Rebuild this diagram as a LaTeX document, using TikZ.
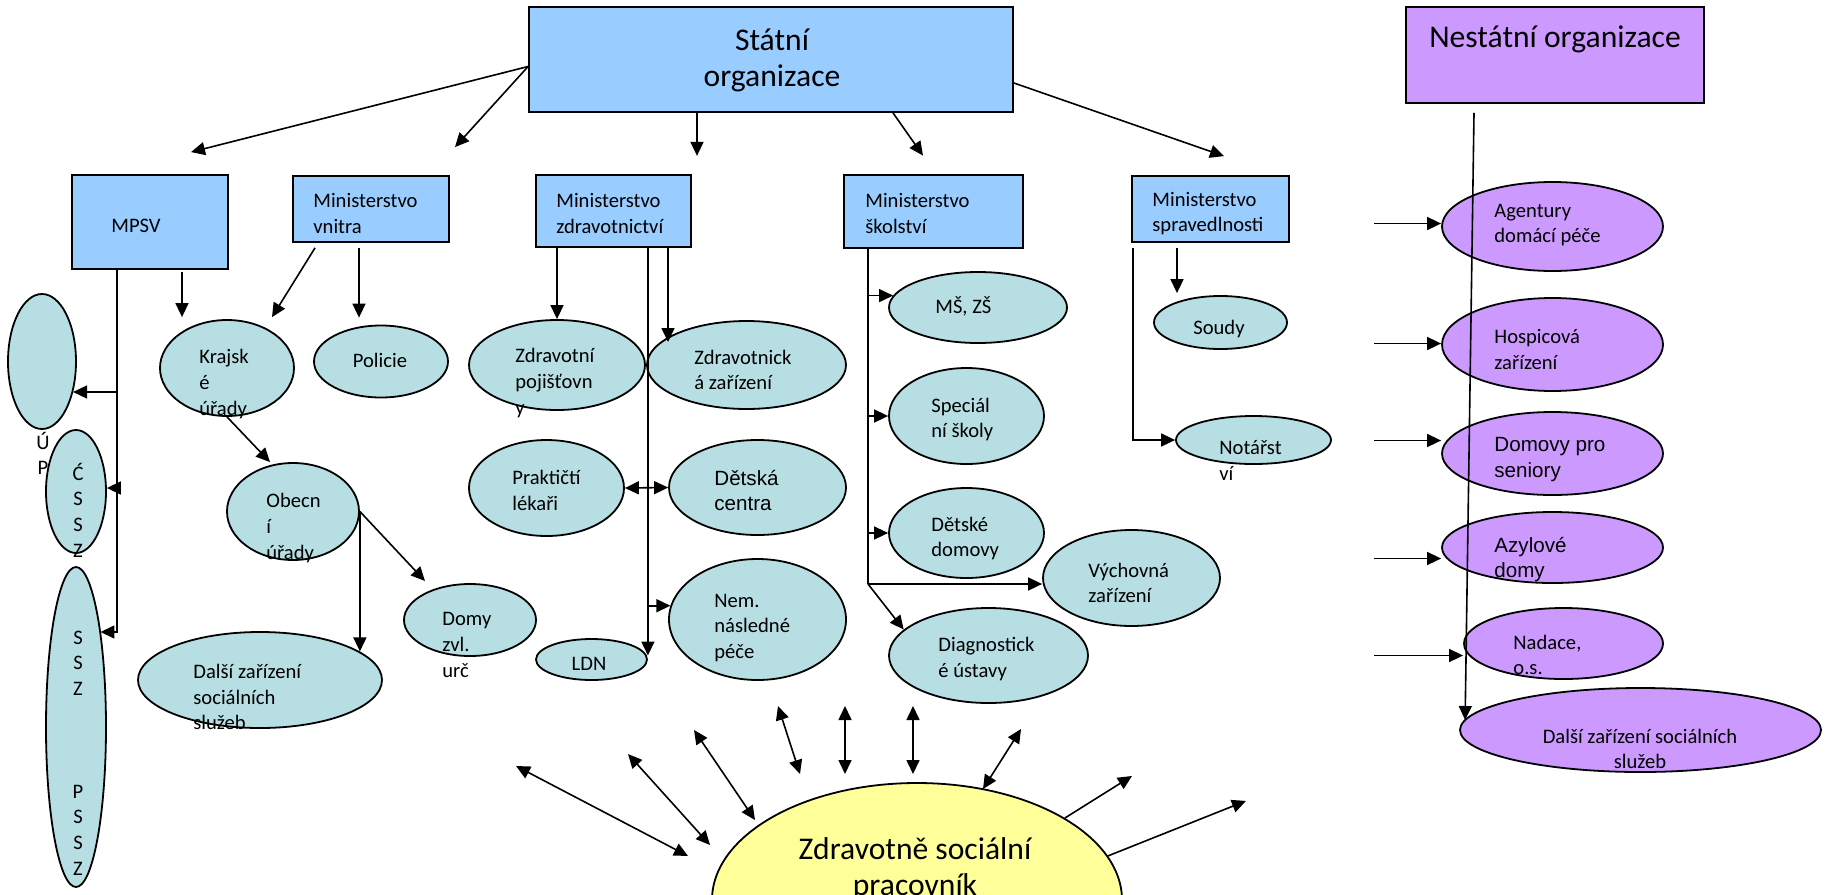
\documentclass[tikz,border=0pt]{standalone}
\usepackage{fontspec}
\setmainfont{Carlito}
\newfontfamily\arialfont{Liberation Sans}
\usepackage{tikz}
\usetikzlibrary{arrows.meta, shapes.geometric}
\usepackage{xcolor}
\definecolor{stateblue}{RGB}{153, 204, 255}
\definecolor{ovalteal}{RGB}{183, 222, 227}
\definecolor{ngopurple}{RGB}{204, 153, 255}
\definecolor{workeryellow}{RGB}{255, 255, 153}
\newcommand{\lblfont}{\fontsize{10.3}{12.8}\selectfont}
\newcommand{\headfont}{\fontsize{15.8}{18}\selectfont}

\begin{document}
\begin{tikzpicture}[x=0.5pt, y=-0.5pt,
    box/.style 2 args={draw, line width=0.9pt, fill=stateblue, minimum width=#1pt, minimum height=#2pt, inner sep=0pt},
    oval/.style 2 args={ellipse, draw, line width=0.9pt, fill=ovalteal, minimum width=#1pt, minimum height=#2pt, inner sep=0pt},
    ngo/.style 2 args={oval={#1}{#2}, fill=ngopurple},
    lbl/.style={inner sep=0pt, anchor=west, align=left, font=\lblfont},
    mid/.style={inner sep=0pt, align=center, font=\lblfont},
    trunk/.style={line width=0.8pt},
    arr/.style={line width=0.8pt, -{Triangle[length=7pt, width=6.5pt]}},
    both/.style={line width=0.8pt, {Triangle[length=7pt, width=6.5pt]}-{Triangle[length=7pt, width=6.5pt]}}]

    \fill[white, use as bounding box] (0,0) rectangle (1845,894);

    \foreach \i/\ax/\ay/\bx/\by in {1/688/856/516/766, 2/710/845/628/754, 3/755/820/694/730,
        4/800/774/778/706, 5/845/774/845/706, 6/913/774/913/706, 7/983/789/1021/729} {
        \coordinate (ray\i a) at (\ax,\ay);
        \coordinate (ray\i b) at (\bx,\by);
        \draw[both] (ray\i a) -- (ray\i b);
    }

    \node[box={242}{52.5}] (stat) at (771,59.5) {};
    \node[box={149}{48}, fill=ngopurple] (nestat) at (1555,55) {};
    \node[box={78}{47}] (mpsv) at (150,222) {};
    \node[box={78}{33}] (mvnitra) at (371,209) {};
    \node[box={77.5}{36.25}] (mzdrav) at (613.5,211) {};
    \node[box={89.5}{36.5}, line width=1.4pt] (mskol) at (933.5,211.5) {};
    \node[box={78.5}{33}] (msprav) at (1210.5,209) {};

    \node[oval={34}{67.5}] (up) at (42,361.5) {};
    \node[mid] (t-up) at (43,453.5) {Ú\\P};
    \node[oval={30}{61.5}] (cssz) at (76,491.5) {};
    \node[oval={30}{160}] (ssz) at (76,727) {};
    \node[oval={67}{48}] (kraj) at (227,368) {};
    \node[oval={67}{36}] (polic) at (381,361.5) {};
    \node[oval={66}{48.5}] (obec) at (293,511.5) {};
    \node[oval={122}{48}] (dalsi) at (260,680) {};
    \node[oval={66}{36}] (domy) at (470,620) {};

    \node[oval={88}{45}] (pojist) at (557,365) {};
    \node[oval={99.5}{44}] (zdrzar) at (746.5,365) {};
    \node[oval={77.5}{48}] (prakt) at (546.5,488) {};
    \node[oval={88.5}{47.5}] (detc) at (757.5,487.5) {};
    \node[oval={88.5}{60.5}] (nem) at (757.5,619.5) {};
    \node[oval={55.5}{20.5}] (ldn) at (591.5,659.5) {};

    \node[oval={89}{35.5}] (mszs) at (978,307.5) {};
    \node[oval={77.5}{48}] (spec) at (966.5,416) {};
    \node[oval={77.5}{45}] (detd) at (966.5,533) {};
    \node[oval={88.5}{48}] (vych) at (1131.5,578) {};
    \node[oval={99.5}{47.5}] (diag) at (988.5,655.5) {};
    \node[oval={66.5}{26.5}] (soudy) at (1220.5,322.5) {};
    \node[oval={77.5}{24}] (notar) at (1253.5,440) {};

    \node[ngo={110.5}{44.5}] (agent) at (1552.5,226.5) {};
    \node[ngo={110.5}{46.5}] (hosp) at (1552.5,344.5) {};
    \node[ngo={110.5}{41.5}] (domsen) at (1552.5,453.5) {};
    \node[ngo={110.5}{35.5}] (azyl) at (1552.5,547.5) {};
    \node[ngo={99.5}{35.5}] (nadace) at (1563.5,643.5) {};
    \node[ngo={180.5}{42}] (dalsin) at (1640.5,730) {};

    \node[oval={205}{117}, fill=workeryellow] (zsp) at (917,900) {};
    \draw[arr] (zsp.29) -- ++(67,-42);
    \draw[arr] (zsp.13.5) -- ++(138,-55);

    \draw[arr] ([shift={(0,7)}]stat.west) -- ([shift={(41,-22)}]mpsv.north);
    \draw[arr] ([shift={(0,7)}]stat.west) -- ([shift={(84,-28)}]mvnitra.north);
    \draw[arr] ([shift={(-74,0)}]stat.south) -- ([shift={(83.5,-18)}]mzdrav.north);
    \draw[arr] ([shift={(122,0)}]stat.south) -- ([shift={(-10.5,-18)}]mskol.north);
    \draw[arr] ([shift={(0,23.5)}]stat.east) -- ([shift={(13.5,-19)}]msprav.north);

    \coordinate (mb1) at (117,392);
    \coordinate (mb2) at (117,488);
    \coordinate (mb3) at (117,632);
    \draw[arr] (mb3 |- mpsv.south) -- (mb3) -- (ssz.76 |- mb3);
    \draw[arr] (mb1) -- (up.-45 |- mb1);
    \draw[arr] (mb2) -- (cssz.east |- mb2);
    \draw[arr] ([shift={(32,2)}]mpsv.south) -- ([shift={(-45,-2)}]kraj.north);
    \draw[arr] ([shift={(-56,5)}]mvnitra.south) -- ([shift={(45,-2)}]kraj.north);
    \draw[arr] ([shift={(-12,5)}]mvnitra.south) -- ([shift={(-22,-7)}]polic.north);
    \draw[arr] (kraj.south) -- ([shift={(-23,0)}]obec.north);
    \draw[arr] (obec.east) -- (obec.east |- dalsi.16);
    \draw[arr] (obec.east) -- ([shift={(-45,-39)}]domy.center);

    \coordinate (zz) at ([shift={(-78.5,-23)}]zdrzar.center);
    \draw[arr] (pojist.north |- mzdrav.south) -- (pojist.north);
    \draw[arr] (zz |- mzdrav.south) -- (zz);
    \draw[arr] (ldn.east |- mzdrav.south) -- ([shift={(0,-4)}]ldn.east);
    \draw[both] (prakt.east) -- (detc.west);
    \draw[arr] (ldn.east |- nem.171) -- (nem.171);

    \coordinate (sk) at (868,584);
    \draw[trunk] (sk |- mskol.south) -- (sk);
    \draw[arr] (sk |- mszs.172) -- (mszs.172);
    \draw[arr] (sk |- spec.west) -- (spec.west);
    \draw[arr] (sk |- detd.west) -- (detd.west);
    \draw[arr] (sk) -- (sk -| vych.west);
    \draw[arr] (sk) -- (diag.163);

    \draw[arr] ([shift={(-33.5,5)}]msprav.south) -- ([shift={(-43.5,-2)}]soudy.north);
    \draw[arr] ([shift={(-77.5,5)}]msprav.south) |- (notar.west);

    \draw[arr] ([shift={(-81,9)}]nestat.south) -- ([shift={(6,-10)}]dalsin.west);
    \foreach \n/\dx/\dy in {agent/-67/-3, hosp/-67/-1, domsen/-67/-13, azyl/-67/11, nadace/-89/12}
        \draw[arr] ([shift={(\dx,\dy)}]\n.west) -- ([shift={(0,\dy)}]\n.west);

    \node[mid, font=\headfont] (t-stat) at (772,60.5) {Státní\\organizace};
    \node[mid, font=\headfont] (t-nestat) at (1555,39) {Nestátní organizace};
    \node[lbl] (t-mpsv) at (111,226) {MPSV};
    \node[lbl] (t-mvnitra) at (313,213.5) {Ministerstvo\\vnitra};
    \node[lbl] (t-mzdrav) at (556,213.5) {Ministerstvo\\zdravotnictví};
    \node[lbl] (t-mskol) at (865,213.5) {Ministerstvo\\školství};
    \node[lbl] (t-msprav) at (1152,213.5) {Ministerstvo\\spravedlnosti};

    \node[mid] (t-cssz) at (78,510) {Ć\\S\\S\\Z};
    \node[mid] (t-ssz) at (78,663) {S\\S\\Z};
    \node[mid] (t-pssz) at (78,830) {P\\S\\S\\Z};
    \node[lbl] (t-kraj) at (199,384) {Krajsk\\é\\úřady};
    \node[mid] (t-polic) at (380,360) {Policie};
    \node[lbl] (t-obec) at (266,528) {Obecn\\í\\úřady};
    \node[lbl] (t-dalsi) at (193,697) {Další zařízení\\sociálních\\služeb};
    \node[lbl] (t-domy) at (442,645) {Domy\\zvl.\\urč};

    \node[lbl] (t-pojist) at (515,383) {Zdravotní\\pojišťovn\\y};
    \node[lbl] (t-zdrzar) at (694,370) {Zdravotnick\\á zařízení};
    \node[lbl] (t-prakt) at (512,490.5) {Praktičtí\\lékaři};
    \node[lbl, font=\lblfont\arialfont] (t-detc) at (714,490.5) {Dětská\\centra};
    \node[lbl] (t-nem) at (714,628) {Nem.\\následné\\péče};
    \node[mid] (t-ldn) at (589,664) {LDN};

    \node[lbl] (t-mszs) at (935,306) {MŠ, ZŠ};
    \node[lbl] (t-spec) at (931,419.5) {Speciál\\ní školy};
    \node[lbl] (t-detd) at (931,538.5) {Dětské\\domovy};
    \node[lbl] (t-vych) at (1088,583) {Výchovná\\zařízení};
    \node[lbl] (t-diag) at (938,659) {Diagnostick\\é ústavy};
    \node[mid] (t-soudy) at (1219,328.6) {Soudy};
    \node[lbl] (t-notar) at (1219,460.5) {Notářst\\ví};

    \node[lbl] (t-agent) at (1494,225) {Agentury\\domácí péče};
    \node[lbl] (t-hosp) at (1494,349.5) {Hospicová\\zařízení};
    \node[lbl, font=\lblfont\arialfont] (t-domsen) at (1494,459.5) {Domovy pro\\seniory};
    \node[lbl, font=\lblfont\arialfont] (t-azyl) at (1494,559.5) {Azylové\\domy};
    \node[lbl] (t-nadace) at (1513,655) {Nadace,\\o.s.};
    \node[mid] (t-dalsin) at (1640,749) {Další zařízení sociálních\\služeb};

    \node[mid, font=\headfont] (t-zsp) at (915,869) {Zdravotně sociální\\pracovník};
\end{tikzpicture}
\end{document}
